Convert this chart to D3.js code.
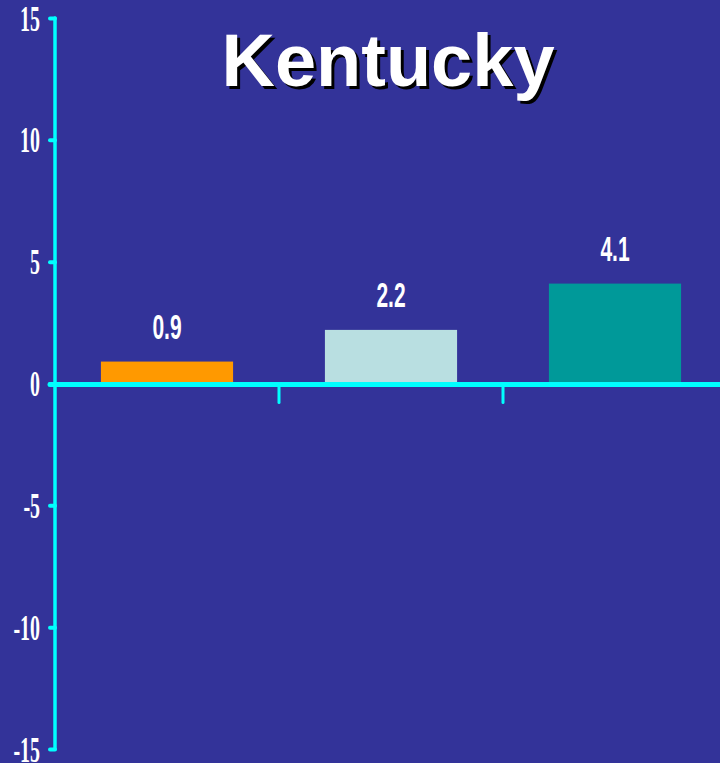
<!DOCTYPE html>
<html>
<head>
<meta charset="utf-8">
<script src="https://cdn.jsdelivr.net/npm/d3@7"></script>
<style>
  html, body { margin: 0; padding: 0; background: #333399; }
  svg { display: block; }
</style>
</head>
<body>
<svg id="chart" width="720" height="763"></svg>
<script>
// ---- data ----
const title = "Kentucky";
const categories = ["A", "B", "C"];
const values = [0.9, 2.2, 4.1];
const barColors = ["#FF9900", "#B9DFE1", "#009999"];
const yTicks = [-15, -10, -5, 0, 5, 10, 15];

// ---- layout ----
const W = 720, H = 763;
const svg = d3.select("#chart");
svg.append("rect").attr("width", W).attr("height", H).attr("fill", "#333399");

const y = d3.scaleLinear().domain([-15, 15]).range([749, 18]);
const x = d3.scaleBand().domain(categories).range([55, 727]).padding(0);
const barW = x.bandwidth() * 0.59;
const axisColor = "#00FFFF";

// bars
svg.selectAll("rect.bar").data(values).join("rect")
  .attr("class", "bar")
  .attr("x", (d, i) => x(categories[i]) + (x.bandwidth() - barW) / 2)
  .attr("width", barW)
  .attr("y", d => y(Math.max(0, d)))
  .attr("height", d => Math.abs(y(d) - y(0)))
  .attr("fill", (d, i) => barColors[i]);

// value labels
svg.selectAll("text.val").data(values).join("text")
  .attr("class", "val")
  .attr("transform", (d, i) => `translate(${x(categories[i]) + x.bandwidth() / 2},${y(d) - 23}) scale(0.6,1)`)
  .attr("text-anchor", "middle")
  .attr("font-family", "'Liberation Sans', Arial, sans-serif")
  .attr("font-weight", "bold")
  .attr("font-size", 35)
  .attr("fill", "#ffffff")
  .text(d => d.toFixed(1));

// y axis
const yAxis = d3.axisLeft(y).tickValues(yTicks).tickSize(5).tickFormat(d => String(d));
const gy = svg.append("g").attr("transform", "translate(55,0)").call(yAxis);
gy.select(".domain").remove();
gy.selectAll(".tick line")
  .attr("stroke", axisColor).attr("stroke-width", 4).attr("stroke-linecap", "round");
gy.selectAll(".tick text")
  .attr("x", null).attr("dy", null)
  .attr("transform", "translate(-15,12) scale(0.57,1)")
  .attr("text-anchor", "end")
  .attr("font-family", "'Liberation Serif', 'Times New Roman', serif")
  .attr("font-weight", "bold")
  .attr("font-size", 35)
  .attr("fill", "#ffffff");
svg.append("line")
  .attr("x1", 55).attr("x2", 55).attr("y1", y(15)).attr("y2", y(-15))
  .attr("stroke", axisColor).attr("stroke-width", 3.5).attr("stroke-linecap", "round");

// x axis (ticks between categories)
const boundaries = categories.slice(1).map(c => x(c));
svg.selectAll("line.xtick").data(boundaries).join("line")
  .attr("class", "xtick")
  .attr("x1", d => d).attr("x2", d => d)
  .attr("y1", y(0) + 1).attr("y2", y(0) + 19)
  .attr("stroke", axisColor).attr("stroke-width", 3).attr("stroke-linecap", "round");
svg.append("line")
  .attr("x1", 50).attr("x2", x.range()[1] + 5).attr("y1", y(0) + 1).attr("y2", y(0) + 1)
  .attr("stroke", axisColor).attr("stroke-width", 5).attr("stroke-linecap", "round");

// title with shadow
const tFont = "'Liberation Sans', Arial, Helvetica, sans-serif";
svg.append("text")
  .attr("x", 391).attr("y", 89)
  .attr("text-anchor", "middle")
  .attr("font-family", tFont).attr("font-weight", "bold").attr("font-size", 74)
  .attr("fill", "#000000").text(title);
svg.append("text")
  .attr("x", 388).attr("y", 86)
  .attr("text-anchor", "middle")
  .attr("font-family", tFont).attr("font-weight", "bold").attr("font-size", 74)
  .attr("fill", "#ffffff").text(title);
</script>
</body>
</html>
